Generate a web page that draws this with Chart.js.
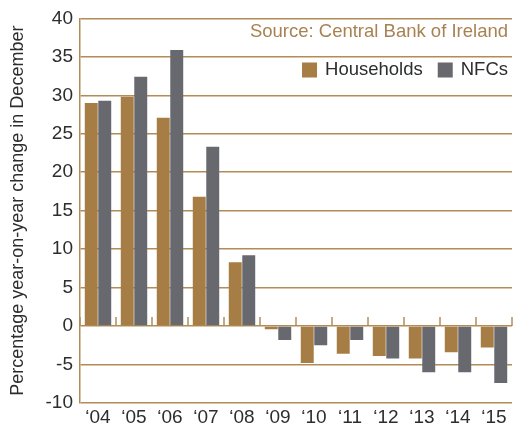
<!DOCTYPE html>
<html lang="en">
<head>
    <meta charset="UTF-8">
    <title>Credit growth</title>
    <script src="https://cdn.jsdelivr.net/npm/chart.js"></script>
    <style>
        body { margin: 0; background: #fff; }
        #wrap { width: 515px; height: 426px; }
    </style>
</head>
<body>
    <div id="wrap"><canvas id="creditChart" width="515" height="426"></canvas></div>

    <script>
        const years = ['\u201804', '\u201805', '\u201806', '\u201807', '\u201808', '\u201809',
                       '\u201810', '\u201811', '\u201812', '\u201813', '\u201814', '\u201815'];
        const households = [29.0, 29.8, 27.1, 16.8, 8.3, -0.4, -4.8, -3.6, -3.9, -4.2, -3.4, -2.8];
        const nfcs = [29.3, 32.4, 35.9, 23.3, 9.2, -1.8, -2.5, -1.8, -4.2, -6.0, -6.0, -7.4];
        const sourceText = 'Source: Central Bank of Ireland';

        const gold = '#a77d46';
        const grey = '#68696e';
        const gridGold = '#b38b57';
        const fontFamily = '"Liberation Sans", Arial, Helvetica, sans-serif';

        // source note, legend and the small ticks on the zero line
        const extras = {
            id: 'extras',
            afterDraw(chart) {
                const ctx = chart.ctx;
                const area = chart.chartArea;
                const x = chart.scales.x;
                const y = chart.scales.y;
                ctx.save();

                // ticks at category boundaries
                const zero = y.getPixelForValue(0);
                const step = x.getPixelForValue(1) - x.getPixelForValue(0);
                ctx.strokeStyle = gridGold;
                ctx.lineWidth = 1.5;
                for (let i = 0; i <= years.length; i++) {
                    const px = x.getPixelForValue(0) - step / 2 + i * step;
                    ctx.beginPath();
                    ctx.moveTo(px, zero);
                    ctx.lineTo(px, zero - 9);
                    ctx.stroke();
                }

                ctx.font = '18.5px ' + fontFamily;
                ctx.fillStyle = '#a88253';
                ctx.textAlign = 'right';
                ctx.textBaseline = 'middle';
                ctx.fillText(sourceText, area.right - 4, 32);

                // legend
                ctx.font = '18.5px ' + fontFamily;
                const items = [['NFCs', grey], ['Households', gold]];
                let right = area.right - 4;
                const ly = 70;
                items.forEach(([label, color]) => {
                    const w = ctx.measureText(label).width;
                    ctx.fillStyle = '#2b2d2f';
                    ctx.fillText(label, right, ly);
                    const bx = right - w - 23;
                    ctx.fillStyle = color;
                    ctx.fillRect(bx, ly - 7.5, 15, 15);
                    right = bx - 15;
                });
                ctx.restore();
            }
        };

        const ctx = document.getElementById('creditChart').getContext('2d');
        const creditChart = new Chart(ctx, {
            type: 'bar',
            data: {
                labels: years,
                datasets: [{
                    label: 'Households',
                    data: households,
                    backgroundColor: gold
                }, {
                    label: 'NFCs',
                    data: nfcs,
                    backgroundColor: grey
                }]
            },
            plugins: [extras],
            options: {
                responsive: false,
                animation: false,
                layout: { padding: { top: 18, right: 3, left: 0, bottom: 0 } },
                datasets: {
                    bar: { categoryPercentage: 0.75, barPercentage: 0.96 }
                },
                scales: {
                    x: {
                        grid: { display: false, drawTicks: false },
                        border: { display: false },
                        ticks: {
                            color: '#2b2d2f',
                            font: { family: fontFamily, size: 19 },
                            padding: 3,
                            maxRotation: 0
                        },
                        afterFit(scale) { scale.height = 23; }
                    },
                    y: {
                        min: -10,
                        max: 40,
                        ticks: {
                            stepSize: 5,
                            color: '#2b2d2f',
                            font: { family: fontFamily, size: 19 },
                            padding: 7
                        },
                        grid: { color: gridGold, lineWidth: 1.5, drawTicks: false },
                        border: { display: true, color: gridGold, width: 1.5 },
                        title: {
                            display: true,
                            text: 'Percentage year-on-year change in December',
                            color: '#2b2d2f',
                            font: { family: fontFamily, size: 18 },
                            padding: { top: 7, bottom: 0 }
                        },
                        afterFit(scale) { scale.width = 80; }
                    }
                },
                plugins: {
                    legend: { display: false },
                    tooltip: { enabled: false }
                }
            }
        });
    </script>
</body>
</html>
